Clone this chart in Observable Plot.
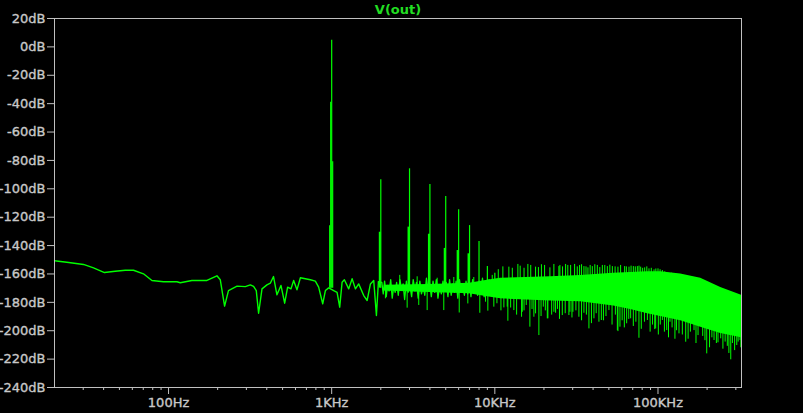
<!DOCTYPE html>
<html><head><meta charset="utf-8">
<script src="https://cdn.jsdelivr.net/npm/d3@7"></script>
<script src="https://cdn.jsdelivr.net/npm/@observablehq/plot@0.6"></script>
<style>html,body{margin:0;padding:0;background:#000;}
svg g[aria-label$="tick label"] text{stroke:#c8c8c8;stroke-width:0.35px;}</style>
</head><body><div id="chart"></div>
<script>
// Low-frequency part of the trace (Hz, dB)
const lowFreq = [20,23.8,30.1,34.7,40.5,47.1,54.3,61,70.2,79.1,93.1,112.6,118,139,172,198,207.6,220.6,233,263,295.6,317,332,345,356.5,374,401,420.6,440,461.8,488.7,515,537,562.8,584.7,612.6,643,740,794,832,881,915,958.6,1029,1079,1120,1158,1196,1272,1334,1398,1464,1572,1649,1728,1810,1880,1934];
const lowDb = [-150.7,-151.7,-153.3,-155.7,-159.0,-158.1,-157.4,-157.4,-159.9,-164.6,-165.5,-165.5,-166.2,-164.6,-164.6,-161.3,-164.1,-182.7,-171.7,-168.6,-168.9,-167.7,-168.8,-171.7,-187.7,-170.5,-167.7,-166.5,-161.8,-174.7,-168.1,-180.6,-169.3,-170.5,-164.6,-171.2,-162.7,-164.1,-165.1,-169.3,-181.0,-171.7,-169.8,-171.7,-172.9,-183.4,-165.8,-164.1,-170.5,-163.4,-170.5,-167,-175.2,-178.7,-167,-164.6,-189.3,-165.5];

// Noise trace between 2 kHz and 10 kHz
const midFreq = [1934,2030,2070,2110,2160,2200,2250,2300,2350,2400,2450,2500,2560,2620,2680,2740,2800,2870,2940,3020,3090,3160,3240,3310,3390,3470,3550,3640,3720,3810,3900,3990,4080,4180,4280,4380,4480,4590,4700,4810,4920,5040,5160,5280,5400,5530,5660,5790,5930,6070,6210,6360,6510,6660,6820,6980,7140,7310,7480,7660,7840,8020,8210,8400,8600,8800,9010,9220,9440,9660,9890];
const midDb = [-165.5,-166,-174,-165,-176,-168,-172,-164,-177,-169,-173,-166,-175,-164,-171,-167,-178,-165,-173,-168,-176,-164,-172,-166,-177,-165,-174,-169,-175,-163,-172,-167,-176,-165,-173,-164,-177,-168,-174,-165,-172,-166,-176,-164,-175,-167,-173,-165,-177,-164,-172,-168,-175,-165,-174,-166,-176,-164,-173,-167,-175,-165,-174,-163,-176,-166,-173,-164,-175,-167,-174];

// Fundamental (1 kHz) and its neighbouring bins
const fundFreq = [972,986,1000,1014];
const fundDb = [-126,-39,4.6,-81];

// Harmonics
const harmFreq = [2000,3000,4000,5000,6000,7000,8000,9000,10000];
const harmDb = [-93.7,-85.9,-97,-105.4,-114.8,-125.9,-137.1,-154.8,-159.5];
const leakFreq = [1972,2958,3945,4930,5916,6900];
const leakDb = [-130.6,-127,-132,-142,-143.5,-145.8];

// Noise floor band envelope
const bandFreq = [2100,4000,7000,9000,10840,21970,33560,53480,68000,86470,103900,137800,182800,242400,325000];
const bandUpper = [-168,-167.5,-166.5,-164.5,-163,-162,-161,-159.5,-159,-158.5,-158.5,-160,-163,-169.5,-175];
const bandLower = [-172,-173,-174,-176,-177.5,-179,-179.5,-182.5,-185,-188,-190,-193,-197.5,-202,-205];

// Noise spikes above the band
const upFreq = [2613,3341,4432,5604,7430,9640,10500,11200,12190,12800,13840,14300,15100,15940,16600,17770,18500,19300,20180,21750,23010,24690,25050,26000,27150,28000,29140,30830,32000,33080,34000,35160,36200,37210,38400,39580,41000,42480,44000,45600,47200,48930,50700,52520,54600,56830,59000,62470,64000,66400,68400,70640,72600,74740,76500,78330,80500,82870,85400,88060,91000,94510,97000,100000,103000,106400,110000,115200,121000,128000,140000,152000,165000,190000,210000,260000,290000];
const upDb = [-161,-162,-163,-162.5,-162.5,-161,-157,-155,-155.2,-156,-153.3,-154.5,-156,-153.3,-154,-155.2,-155.5,-153.5,-154.0,-155.7,-153.3,-154.8,-154.0,-155,-153.3,-154,-154.0,-153.3,-155,-154.0,-153.5,-154.8,-155,-155.7,-154,-154.8,-153.5,-154.0,-155.5,-154.0,-154,-154.8,-153.8,-154.8,-155,-155.2,-154,-154.8,-155,-155.2,-154.5,-154.8,-155,-154.8,-154.5,-155.2,-156,-155.7,-155,-156.4,-156,-157.1,-156.5,-156.4,-157,-157.6,-158.5,-159.5,-159.5,-160,-161,-162,-163.5,-166,-168.5,-172,-174];

// Noise spikes below the band
const downFreq = [2135,2901,3417,3848,4865,6050,6830,8090,8770,9060,9860,10300,10900,11360,11910,12020,12500,13080,13600,14580,14730,15100,15580,16400,16900,17350,17770,18620,19200,19820,20400,20970,21140,22300,23010,23570,24200,24900,25910,27000,28440,28850,29700,30100,31400,32750,34000,35160,36400,37730,39100,40500,41800,43450,44950,46300,48000,50040,52300,54800,56350,56830,58470,60300,62200,64270,66200,68000,70600,73200,76440,79000,82600,86100,89500,92600,95500,96800,100500,103300,106400,109500,113100,116000,118500,122000,127000,130000,134500,141000,147900,153000,158000,166300,171000,176000,182800,188000,194000,199000,207000,214000,220600,228000,233300,242400,250000,258000,266000,272000,279300,286000,295000,304000,310000,318400,322000];
const downDb = [-177.5,-184.1,-182.2,-185.8,-185.8,-187.5,-181.1,-187.7,-179.9,-186.2,-183.4,-181,-186,-183.9,-183.4,-193.3,-184,-185.8,-189,-190.5,-187,-186,-182.2,-197.5,-185,-190.5,-188.1,-203.4,-190,-183.4,-186,-191.6,-191.6,-189,-187,-187.7,-185,-192,-189.3,-188,-189.3,-187,-191,-187,-186,-190.5,-193,-187.7,-189,-198.7,-195,-191.6,-188,-194,-192.8,-193,-190,-185.8,-196,-189,-199.9,-200.6,-197.5,-193,-198,-195.1,-192,-191.6,-197,-194,-205.3,-199,-194,-192.8,-201,-196,-199.2,-198.7,-203,-196,-192.8,-201,-199.9,-205,-194,-198,-206,-200,-202.2,-203,-208.1,-206,-201,-199.9,-209,-203.4,-196.3,-204,-207,-216.3,-212,-205,-206.9,-209,-208.5,-205.7,-213,-208,-211,-216,-220.5,-209,-214,-210.4,-208,-206.9,-212];

// Axis ticks
const yTicks = [20,0,-20,-40,-60,-80,-100,-120,-140,-160,-180,-200,-220,-240];
const xMajor = [100,1000,10000,100000];
const xMajorLabels = ["100Hz","1KHz","10KHz","100KHz"];
const xMinorMult = [2,3,4,5,6,7,8,9];

const GREEN = "#00ff00";
const GRAY = "#c0c0c0";

const minorTicks = [];
for (const dec of [10,100,1000,10000,100000]) for (const m of xMinorMult) { const v = m*dec; if (v > 20 && v < 325000) minorTicks.push(v); }

function interp(f, xs, ys) {
  const lf = Math.log10(f);
  if (f <= xs[0]) return ys[0];
  for (let i = 1; i < xs.length; i++) {
    if (f <= xs[i]) {
      const a = Math.log10(xs[i-1]), b = Math.log10(xs[i]);
      const t = (lf - a) / (b - a);
      return ys[i-1] + t * (ys[i] - ys[i-1]);
    }
  }
  return ys[ys.length-1];
}
const mid = f => (interp(f, bandFreq, bandUpper) + interp(f, bandFreq, bandLower)) / 2;

const low = lowFreq.map((f,i) => ({f, db: lowDb[i]}));
const midTrace = midFreq.map((f,i) => ({f, db: midDb[i]}));
const band = bandFreq.map((f,i) => ({f, hi: bandUpper[i], lo: bandLower[i]}));
const fund = fundFreq.map((f,i) => ({f, db: fundDb[i], base: -170}));
const harm = harmFreq.map((f,i) => ({f, db: harmDb[i], base: mid(f)}));
const leak = leakFreq.map((f,i) => ({f, db: leakDb[i], base: mid(f)}));
const ups = upFreq.map((f,i) => ({f, db: upDb[i], base: mid(f)}));
const downs = downFreq.map((f,i) => ({f, db: downDb[i], base: mid(f)}));

const chart = Plot.plot({
  width: 803,
  height: 413,
  marginLeft: 54,
  marginRight: 62,
  marginTop: 18,
  marginBottom: 26,
  style: {background: "#000", color: GRAY, fontFamily: "DejaVu Sans", fontSize: "13px"},
  x: {type: "log", domain: [20, 325000]},
  y: {domain: [-240, 20]},
  marks: [
    Plot.areaY(band, {x: "f", y1: "lo", y2: "hi", fill: GREEN, curve: "linear"}),
    Plot.ruleX(ups, {x: "f", y1: "base", y2: "db", stroke: GREEN, strokeWidth: 1}),
    Plot.ruleX(downs, {x: "f", y1: "base", y2: "db", stroke: GREEN, strokeWidth: 1}),
    Plot.line(midTrace, {x: "f", y: "db", stroke: GREEN, strokeWidth: 1.3, curve: "linear"}),
    Plot.ruleX(leak, {x: "f", y1: "base", y2: "db", stroke: GREEN, strokeWidth: 2}),
    Plot.ruleX(harm, {x: "f", y1: "base", y2: "db", stroke: GREEN, strokeWidth: 1.2}),
    Plot.ruleX(fund, {x: "f", y1: "base", y2: "db", stroke: GREEN, strokeWidth: 1.2}),
    Plot.line(low, {x: "f", y: "db", stroke: GREEN, strokeWidth: 1.4, curve: "linear"}),
    Plot.frame({stroke: GRAY, strokeWidth: 1}),
    Plot.axisY(yTicks, {label: null, tickSize: 7, tickPadding: 2, tickFormat: d => d + "dB", stroke: GRAY, fill: "#c8c8c8", fontSize: 13}),
    Plot.axisX(minorTicks, {label: null, tickSize: 3, tickFormat: () => "", stroke: GRAY}),
    Plot.axisX(xMajor, {label: null, tickSize: 7, tickPadding: 3, tickFormat: d => xMajorLabels[xMajor.indexOf(d)], stroke: GRAY, fill: "#c8c8c8", fontSize: 13}),
    Plot.text(["V(out)"], {text: d => d, frameAnchor: "top", dy: -9, lineAnchor: "middle", fill: "#22dd22", fontSize: 13, fontWeight: "bold"})
  ]
});
document.getElementById("chart").appendChild(chart);
</script>
</body></html>
